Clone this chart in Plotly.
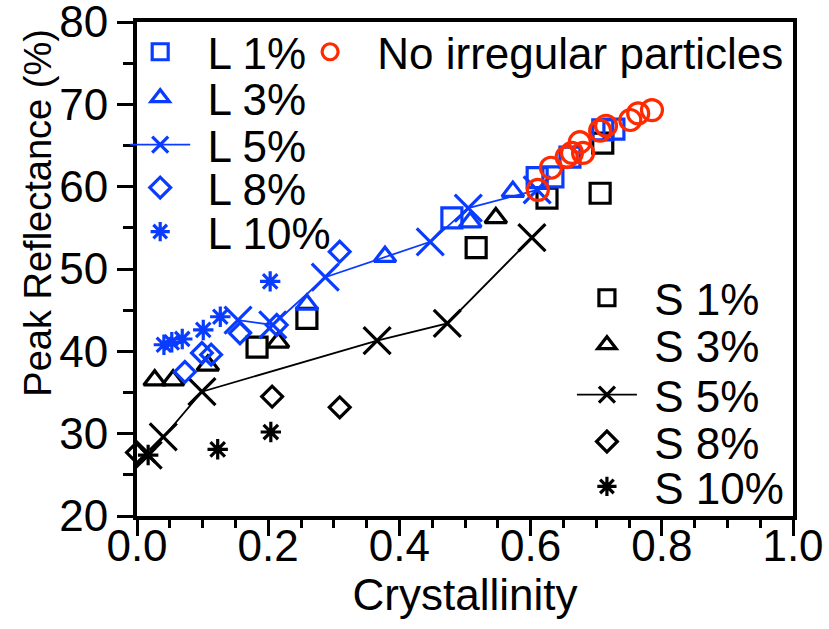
import plotly.graph_objects as go

BLUE = "#0A3CFF"
RED = "#FF2A00"
BLACK = "#000000"
FONT = "Liberation Sans, Arial, sans-serif"
FS = 44

# ---- data ----
S1_x = [0.183, 0.259, 0.517, 0.625, 0.706, 0.710]
S1_y = [40.5, 44.0, 52.6, 58.6, 59.2, 65.3]

S3_x = [0.027, 0.055, 0.108, 0.215, 0.547]
S3_y = [36.5, 36.5, 38.3, 41.1, 56.2]

S5_x = [0.017, 0.040, 0.099, 0.366, 0.473, 0.602]
S5_y = [27.4, 29.6, 35.1, 41.3, 43.4, 53.8]

S8_x = [0.0, 0.206, 0.309]
S8_y = [27.7, 34.5, 33.2]

S10_x = [0.017, 0.123, 0.204]
S10_y = [27.4, 28.1, 30.2]

L1_x = [0.480, 0.610, 0.634, 0.660, 0.710, 0.727]
L1_y = [56.2, 61.1, 61.2, 63.6, 66.9, 67.0]

L3_x = [0.259, 0.378, 0.508, 0.573]
L3_y = [45.7, 51.5, 55.7, 59.4]

L5_x = [0.154, 0.207, 0.287, 0.447, 0.505, 0.610]
L5_y = [43.8, 43.2, 49.0, 53.3, 57.4, 59.6]

L8_x = [0.073, 0.099, 0.113, 0.157, 0.213, 0.309]
L8_y = [37.5, 39.8, 39.6, 42.2, 43.2, 52.1]

L10_x = [0.041, 0.053, 0.069, 0.101, 0.127, 0.203]
L10_y = [40.8, 41.1, 41.5, 42.6, 44.2, 48.5]

NI_x = [0.611, 0.631, 0.655, 0.663, 0.680, 0.675, 0.706, 0.715, 0.752, 0.764, 0.785]
NI_y = [59.6, 62.3, 63.6, 64.1, 64.1, 65.4, 66.8, 67.4, 68.1, 68.9, 69.3]

x_ticks = [0.0, 0.2, 0.4, 0.6, 0.8, 1.0]
y_ticks = [20, 30, 40, 50, 60, 70, 80]

X_TITLE = "Crystallinity"
Y_TITLE = "Peak Reflectance (%)"

NB = "\u00a0"
# (name, x, y, color, symbol, size, mode, legend key)
series = [
    ("S 1%", S1_x, S1_y, BLACK, "square-open", 20, "markers", "legend7"),
    ("S 3%", S3_x, S3_y, BLACK, "triangle-up-open", 19, "markers", "legend8"),
    ("S 5%", S5_x, S5_y, BLACK, "x-thin-open", 27, "lines+markers", "legend9"),
    ("S 8%", S8_x, S8_y, BLACK, "diamond-open", 16, "markers", "legend10"),
    ("S 10%", S10_x, S10_y, BLACK, "asterisk-open", 17, "markers", "legend11"),
    ("L 1%", L1_x, L1_y, BLUE, "square-open", 20, "markers", "legend"),
    ("L 3%", L3_x, L3_y, BLUE, "triangle-up-open", 19, "markers", "legend2"),
    ("L 5%", L5_x, L5_y, BLUE, "x-thin-open", 27, "lines+markers", "legend3"),
    ("L 8%", L8_x, L8_y, BLUE, "diamond-open", 16, "markers", "legend4"),
    ("L 10%", L10_x, L10_y, BLUE, "asterisk-open", 17, "markers", "legend5"),
    ("No irregular particles", NI_x, NI_y, RED, "circle-open", 21, "markers", "legend6"),
]

fig = go.Figure()
for name, xs, ys, col, sym, size, mode, lg in series:
    fig.add_trace(go.Scatter(
        x=xs, y=ys, name=NB + name, mode=mode, legend=lg, cliponaxis=False,
        marker=dict(symbol=sym, size=size, color=col,
                    line=dict(color=col, width=3.2)),
        line=dict(color=col, width=1.8),
    ))

def leg(x, y):
    return dict(x=x, y=y, xanchor="left", yanchor="middle",
                bgcolor="rgba(0,0,0,0)", borderwidth=0, itemwidth=60,
                font=dict(family=FONT, size=FS, color="black"),
                itemclick=False, itemdoubleclick=False)

L_rows = [0.939, 0.846, 0.751, 0.664, 0.575]
S_rows = [0.441, 0.346, 0.245, 0.150, 0.059]
Lx = -0.018
Sx = 0.663

layout_legends = {}
keys_L = ["legend", "legend2", "legend3", "legend4", "legend5"]
keys_S = ["legend7", "legend8", "legend9", "legend10", "legend11"]
for k, yy in zip(keys_L, L_rows):
    layout_legends[k] = leg(Lx, yy)
for k, yy in zip(keys_S, S_rows):
    layout_legends[k] = leg(Sx, yy)
layout_legends["legend6"] = leg(0.241, 0.939)

axis_common = dict(
    showline=True, linecolor="black", linewidth=4, mirror=True,
    ticks="outside", tickcolor="black", tickwidth=3,
    showgrid=False, zeroline=False, automargin=False,
    ticklabeloverflow="allow",
    tickfont=dict(family=FONT, size=FS, color="black"),
)

fig.update_layout(
    width=829, height=629,
    margin=dict(l=137, r=36, t=22, b=113),
    paper_bgcolor="white", plot_bgcolor="white",
    showlegend=True,
    font=dict(family=FONT, size=FS, color="black"),
    xaxis=dict(range=[0, 1.0], tickvals=x_ticks, ticktext=[f"{v:.1f}" for v in x_ticks],
               ticklen=16, ticklabelstandoff=-28,
               minor=dict(dtick=0.05, ticklen=8, tickwidth=3, tickcolor="black", ticks="outside"),
               title=dict(text=X_TITLE, font=dict(family=FONT, size=FS), standoff=8),
               **axis_common),
    yaxis=dict(range=[20, 80], tickvals=y_ticks, ticklen=16,
               minor=dict(dtick=5, ticklen=10, tickwidth=3, tickcolor="black", ticks="outside"),
               **axis_common),
    annotations=[dict(text=Y_TITLE, xref="paper", yref="paper", x=-0.151, y=0.614,
                      xanchor="center", yanchor="middle", textangle=-90, showarrow=False,
                      font=dict(family=FONT, size=38, color="black"))],
    **layout_legends,
)

fig.write_html("out.html")
